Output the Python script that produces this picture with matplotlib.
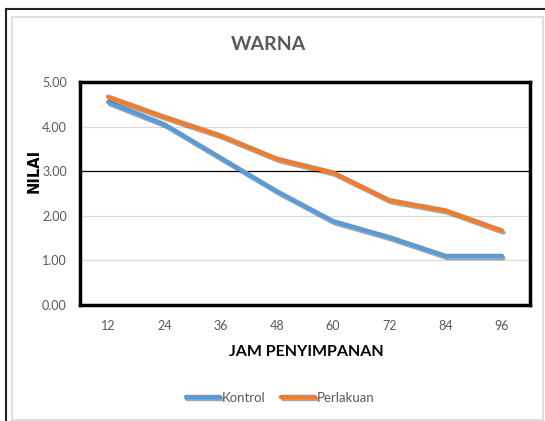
import numpy as np
import matplotlib.pyplot as plt
import matplotlib.patheffects as pe
from matplotlib.lines import Line2D
from matplotlib.patches import Rectangle

plt.rcParams['font.family'] = ['Lato', 'DejaVu Sans']

# data
jam = ['12', '24', '36', '48', '60', '72', '84', '96']
kontrol = [4.55, 4.05, 3.30, 2.55, 1.88, 1.52, 1.10, 1.10]
perlakuan = [4.67, 4.22, 3.80, 3.28, 2.97, 2.35, 2.12, 1.67]

W, H = 545, 421
fig = plt.figure(figsize=(W / 100, H / 100), dpi=100)

# outer frame: black lines top/left, light grey chart box inside
fig.add_artist(Line2D([6 / W, 6 / W], [0, 1 - 9 / H], color='#222222', lw=1.5))
fig.add_artist(Line2D([6 / W, 1], [1 - 9 / H, 1 - 9 / H], color='#222222', lw=1.5))
fig.add_artist(Rectangle((12 / W, 1 / H), 531 / W, 1 - 18 / H, fill=False,
                         edgecolor='#d9d9d9', lw=1.2))

ax = fig.add_axes([80 / W, 1 - 305 / H, 450 / W, 223 / H])
x = np.arange(len(jam))

shadow = [pe.SimpleLineShadow(offset=(1.2, -1.5), alpha=0.35), pe.Normal()]
ax.plot(x, kontrol, color='#5b9bd5', lw=3.2, solid_capstyle='round',
        path_effects=shadow, label='Kontrol', zorder=3)
ax.plot(x, perlakuan, color='#ed7d31', lw=3.2, solid_capstyle='round',
        path_effects=shadow, label='Perlakuan', zorder=3)

ax.set_xlim(-0.5, len(jam) - 0.5)
ax.set_ylim(0, 5)
ax.set_xticks(x)
ax.set_xticklabels(jam)
ax.set_yticks(np.arange(0, 5.01, 1))
ax.set_yticklabels(['%.2f' % v for v in np.arange(0, 5.01, 1)])
ax.tick_params(length=0, labelsize=9, labelcolor='#595959')
ax.tick_params(axis='y', pad=9.5)
ax.tick_params(axis='x', pad=11)

for v in [1, 2, 4]:
    ax.axhline(v, color='#d9d9d9', lw=0.9, zorder=1)
ax.axhline(3, color='black', lw=0.9, zorder=1)

for s in ax.spines.values():
    s.set_linewidth(2.5)
    s.set_color('black')

fig.text(268 / W, 1 - 45 / H, 'WARNA', fontsize=14, fontweight='bold',
         color='#595959', ha='center', va='center')
fig.text(34 / W, 1 - 171 / H, 'NILAI', fontsize=10.5, fontweight='bold',
         family='DejaVu Sans', rotation=90, ha='center', va='center')
fig.text(306 / W, 1 - 352 / H, 'JAM PENYIMPANAN', fontsize=11.5, fontweight='bold',
         ha='center', va='center')

ax.legend(loc='center', bbox_to_anchor=(280 / W, 1 - 398 / H),
          bbox_transform=fig.transFigure, ncol=2, frameon=False,
          fontsize=9.5, handlelength=2.6, handletextpad=0.1, columnspacing=1.2,
          labelcolor='#595959')

fig.savefig('out.png', dpi=100)
